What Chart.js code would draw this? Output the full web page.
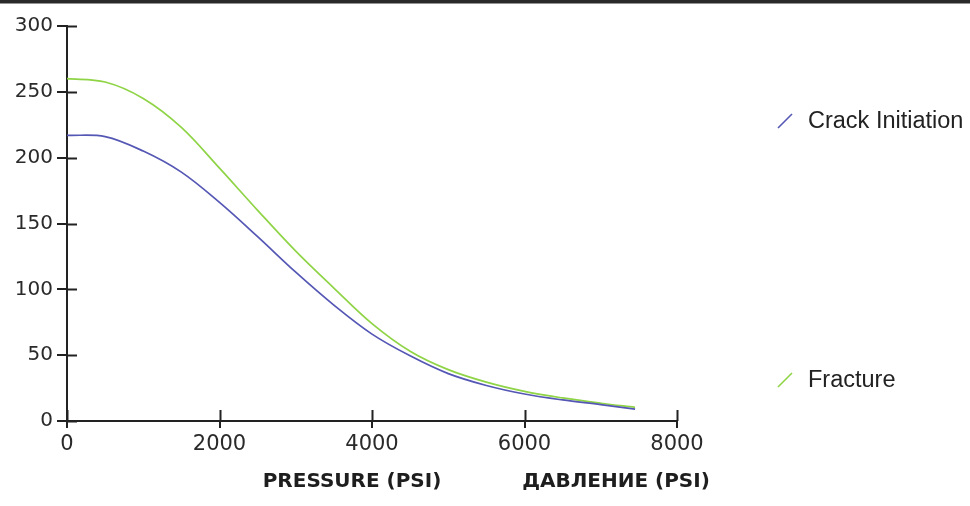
<!DOCTYPE html>
<html>
<head>
<meta charset="utf-8">
<script src="https://cdn.jsdelivr.net/npm/chart.js@4.4.1/dist/chart.umd.min.js"></script>
<style>
  html, body { margin: 0; padding: 0; background: #ffffff; }
  #wrap { width: 970px; height: 506px; position: relative; }
</style>
</head>
<body>
<div id="wrap"><canvas id="chart" width="970" height="506"></canvas></div>
<script>
// Pressure (psi) sample points along both curves
const pressure = [0, 500, 1000, 1500, 2000, 2500, 3000, 3500, 4000, 4500, 5000, 5500, 6000, 6500, 7000, 7450];
// Crack initiation curve
const crackInitiation = [217, 216, 205, 189, 166, 140, 113, 88, 66, 49.5, 36, 27, 20.5, 16, 12.5, 9];
// Fracture curve
const fracture = [260, 257.5, 245, 223, 192, 160, 129, 101, 74, 53, 39, 29.5, 22.5, 17.5, 13.5, 10.4];

const seriesLabels = ['Crack Initiation', 'Fracture'];
const axisTitles = ['PRESSURE (PSI)', 'ДАВЛЕНИЕ (PSI)'];
const xTicks = [0, 2000, 4000, 6000, 8000];
const yTicks = [0, 50, 100, 150, 200, 250, 300];

const toPoints = ys => pressure.map((p, i) => ({ x: p, y: ys[i] }));

const AXIS = '#222222';

// Tick marks that cross the axis line, plus legend, titles and top rule
const decor = {
  id: 'decor',
  afterDraw(chart) {
    const ctx = chart.ctx;
    const xs = chart.scales.x, ys = chart.scales.y;
    const area = chart.chartArea;
    ctx.save();
    // top rule
    ctx.fillStyle = '#2a2a2a';
    ctx.fillRect(0, 0, chart.width, 3.5);

    // inner halves of tick marks
    ctx.strokeStyle = AXIS;
    ctx.lineWidth = 2;
    ctx.beginPath();
    yTicks.forEach(v => {
      const y = Math.round(ys.getPixelForValue(v)) + 0.5;
      ctx.moveTo(area.left, y);
      ctx.lineTo(area.left + 10, y);
    });
    xTicks.forEach(v => {
      const x = Math.round(xs.getPixelForValue(v)) + 0.5;
      ctx.moveTo(x, area.bottom);
      ctx.lineTo(x, area.bottom - 11);
    });
    ctx.stroke();

    // legend entries
    const legendY = [121, 380];
    chart.data.datasets.forEach((ds, i) => {
      const cy = legendY[i];
      ctx.strokeStyle = ds.borderColor;
      ctx.lineWidth = 1.6;
      ctx.beginPath();
      ctx.moveTo(778, cy + 7);
      ctx.lineTo(792, cy - 7);
      ctx.stroke();
      ctx.fillStyle = '#222222';
      ctx.font = '23.5px "Liberation Sans", Arial, sans-serif';
      ctx.textAlign = 'left';
      ctx.textBaseline = 'middle';
      ctx.fillText(ds.label, 808, cy + 1);
    });

    // axis titles (English and Russian)
    ctx.fillStyle = '#1e1e1e';
    ctx.font = 'bold 20px "DejaVu Sans", sans-serif';
    ctx.textAlign = 'center';
    ctx.textBaseline = 'middle';
    ctx.fillText(axisTitles[0], 352, 482);
    ctx.fillText(axisTitles[1], 616, 482);
    ctx.restore();
  }
};

new Chart(document.getElementById('chart'), {
  type: 'line',
  data: {
    datasets: [
      {
        label: seriesLabels[0],
        data: toPoints(crackInitiation),
        borderColor: '#5557b4',
        borderWidth: 1.7,
        pointRadius: 0,
        fill: false,
        tension: 0.35
      },
      {
        label: seriesLabels[1],
        data: toPoints(fracture),
        borderColor: '#8fd446',
        borderWidth: 1.7,
        pointRadius: 0,
        fill: false,
        tension: 0.35
      }
    ]
  },
  options: {
    responsive: false,
    animation: false,
    layout: { padding: { left: 10, top: 26, right: 293, bottom: 0 } },
    plugins: {
      legend: { display: false },
      tooltip: { enabled: false }
    },
    scales: {
      x: {
        type: 'linear',
        min: 0,
        max: 8000,
        afterBuildTicks: s => { s.ticks = xTicks.map(v => ({ value: v })); },
        afterFit: s => { s.height = 85; },
        border: { display: true, color: AXIS, width: 2 },
        grid: { display: true, drawOnChartArea: false, drawTicks: true, tickLength: 7, color: AXIS, lineWidth: 2 },
        ticks: {
          padding: 4,
          color: '#2a2a2a',
          font: { family: '"DejaVu Sans", sans-serif', size: 21 },
          maxRotation: 0,
          callback: v => String(v)
        }
      },
      y: {
        type: 'linear',
        min: 0,
        max: 300,
        afterBuildTicks: s => { s.ticks = yTicks.map(v => ({ value: v })); },
        afterFit: s => { s.width = 57; },
        border: { display: true, color: AXIS, width: 2 },
        grid: { display: true, drawOnChartArea: false, drawTicks: true, tickLength: 10, color: AXIS, lineWidth: 2 },
        ticks: {
          padding: 4,
          color: '#2a2a2a',
          font: { family: '"DejaVu Sans", sans-serif', size: 20 },
          callback: v => String(v)
        }
      }
    }
  },
  plugins: [decor]
});
</script>
</body>
</html>
